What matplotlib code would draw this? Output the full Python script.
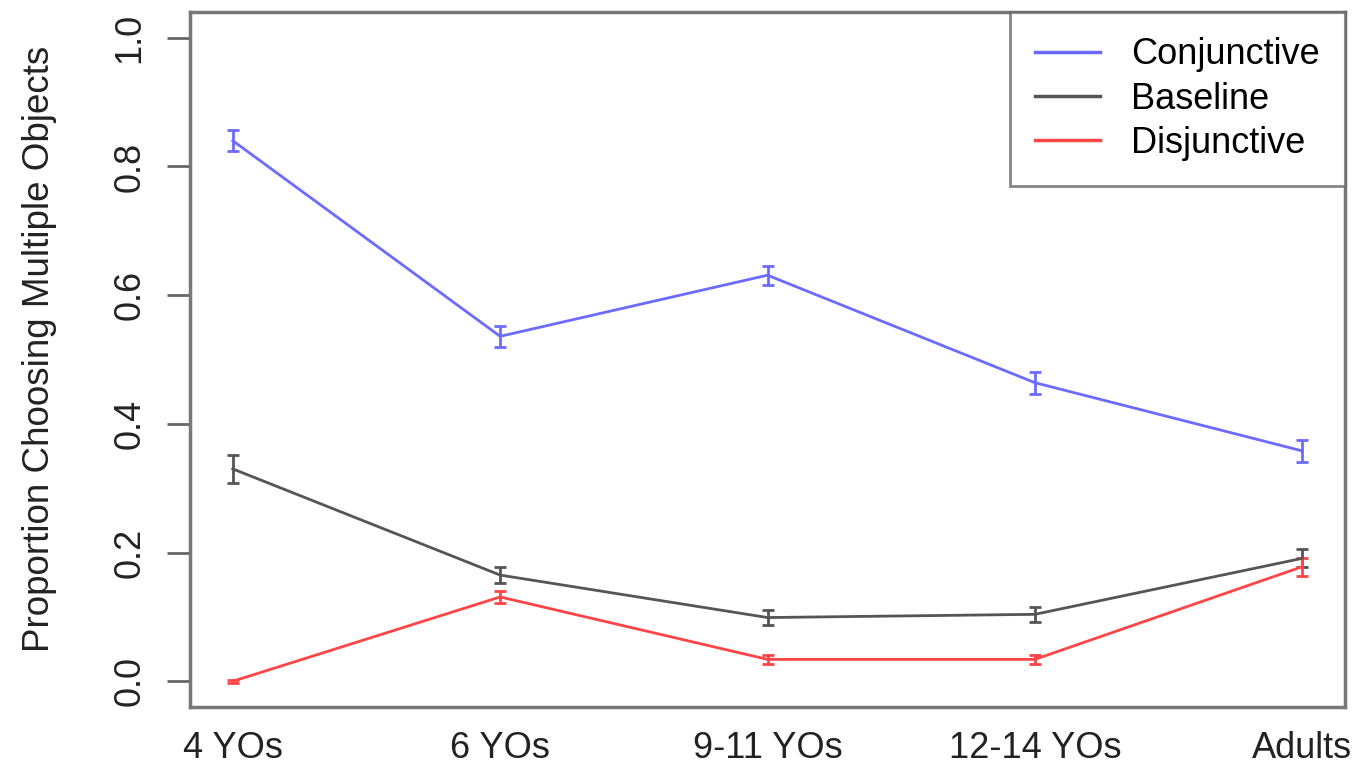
import matplotlib.pyplot as plt
from matplotlib.lines import Line2D
import numpy as np

plt.rcParams['font.family'] = ['Liberation Sans', 'DejaVu Sans']

# 数据
groups = ['4 YOs', '6 YOs', '9-11 YOs', '12-14 YOs', 'Adults']
conj = [0.840, 0.536, 0.631, 0.464, 0.358]
conj_err = [0.016, 0.016, 0.015, 0.017, 0.017]
base = [0.330, 0.165, 0.099, 0.104, 0.191]
base_err = [0.022, 0.012, 0.011, 0.012, 0.014]
disj = [0.000, 0.131, 0.034, 0.034, 0.178]
disj_err = [0.002, 0.010, 0.007, 0.007, 0.014]

x = np.arange(1, len(groups) + 1)

fig = plt.figure(figsize=(13.59, 7.67), dpi=100)
ax = fig.add_axes([190 / 1359, 60 / 767, 1155 / 1359, 695 / 767])

series = [
    ('Conjunctive', conj, conj_err, '#6b6bff'),
    ('Baseline', base, base_err, '#555555'),
    ('Disjunctive', disj, disj_err, '#ff4545'),
]
handles = []
for name, vals, err, c in series:
    ax.errorbar(x, vals, yerr=err, color=c, lw=2, capsize=4.5, capthick=2,
                elinewidth=2)
    handles.append(Line2D([], [], color=c, lw=2.5, label=name))

ax.set_xlim(0.84, 5.16)
ax.set_ylim(-0.04, 1.04)
ax.set_yticks([0.0, 0.2, 0.4, 0.6, 0.8, 1.0])
ax.set_yticklabels(['0.0', '0.2', '0.4', '0.6', '0.8', '1.0'],
                   rotation=90, va='center', fontsize=26, color='#222222')
ax.set_xticks(x)
ax.set_xticklabels(groups, fontsize=26, color='#222222')
ax.tick_params(axis='x', length=0, pad=17)
ax.tick_params(axis='y', length=16.5, width=2, color='#666666', pad=14)
for s in ax.spines.values():
    s.set_linewidth(2.5)
    s.set_color('#777777')
ax.set_ylabel('Proportion Choosing Multiple Objects', fontsize=26.5,
              color='#222222')
ax.yaxis.set_label_coords(-0.115, 0.515)

leg = ax.legend(handles=handles, loc='upper right', fontsize=26, frameon=True,
                fancybox=False, handlelength=1.8, handletextpad=0.85,
                borderpad=0.7, labelspacing=0.26, borderaxespad=0)
leg.get_frame().set_edgecolor('#666666')
leg.get_frame().set_linewidth(2)

fig.savefig('out.png', dpi=100)
